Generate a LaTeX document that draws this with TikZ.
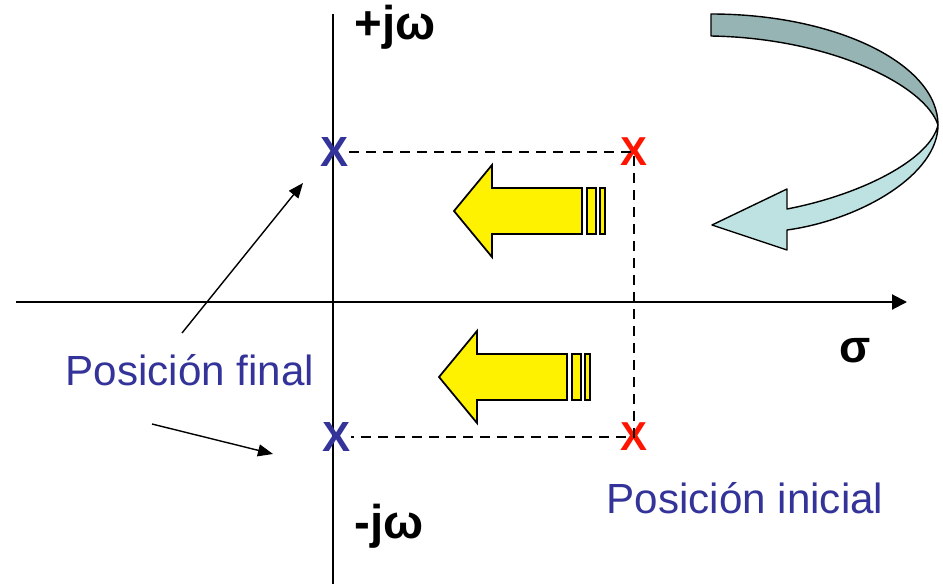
\documentclass[tikz,border=0pt]{standalone}
\usepackage{fontspec}
\setmainfont{Liberation Sans}
\usepackage{tikz}
\usetikzlibrary{arrows.meta, positioning}
\usepackage{xcolor}
\definecolor{posblue}{RGB}{51,51,153}
\definecolor{posred}{RGB}{255,20,0}
\definecolor{ribbondark}{RGB}{150,180,180}
\definecolor{ribbonlight}{RGB}{190,226,226}

\begin{document}
\begin{tikzpicture}[
    x=0.02cm, y=-0.02cm,
    axisline/.style={line width=1.15pt},
    axisarrow/.style={line width=1.15pt, -{Triangle[length=0.3cm, width=0.3cm]}},
    axistext/.style={inner sep=0, font=\bfseries\fontsize{27}{30}\selectfont},
    finalpole/.style={inner sep=0, text=posblue, font=\bfseries\fontsize{24}{27}\selectfont},
    initpole/.style={inner sep=0, text=posred, font=\bfseries\fontsize{23}{26}\selectfont},
    postext/.style={inner sep=0, text=posblue, font=\fontsize{24}{28}\selectfont},
    guide/.style={dashed, dash pattern=on 0.2cm off 0.14cm, line width=0.95pt},
    pointer/.style={line width=0.8pt, -{Triangle[length=0.3cm, width=0.24cm]}},
    blockarrow/.style={draw=black, fill=yellow, line width=1pt, line join=miter},
    ribbon/.style={draw=black, line width=0.8pt, line join=round}
]
\useasboundingbox (0,0) rectangle (943,584);

\coordinate (sigmaL) at (16,302);
\coordinate (sigmaR) at (907,302);
\coordinate (jwT) at (333,14);
\coordinate (jwB) at (333,584);
\draw[axisarrow] (sigmaL) -- (sigmaR);
\draw[axisline] (jwT) -- (jwB);

\node[axistext, anchor=base west] (jwpos) at (354,40) {+jω};
\node[axistext, anchor=base west] (jwneg) at (354,538) {-jω};
\node[axistext, anchor=base, font=\bfseries\fontsize{26}{30}\selectfont] (sigma) at (855,362) {σ};

\node[finalpole] (pu) at (335,152) {X};
\node[finalpole] (pl) at (337,437) {X};
\node[initpole] (iu) at (634,152) {X};
\node[initpole] (il) at (634,437) {X};

\draw[guide] (pu.east) -- (iu.center) -- (il.center) -- (pl.east);

\draw[blockarrow, shift={(454,211)}] (0,0) -- (38,-46) -- (38,-23) -- (128,-23) -- (128,23) -- (38,23) -- (38,46) -- cycle
    (133,-23) rectangle (142,23) (146,-23) rectangle (151,23);
\draw[blockarrow, shift={(439,377)}] (0,0) -- (38,-46) -- (38,-23) -- (128,-23) -- (128,23) -- (38,23) -- (38,46) -- cycle
    (133,-23) rectangle (142,23) (146,-23) rectangle (151,23);

\draw[ribbon, fill=ribbondark] (711,14) .. controls (836,14) and (938,64) .. (938,125)
    .. controls (925,85) and (830,38) .. (711,36) -- cycle;
\draw[ribbon, fill=ribbonlight] (938,125) .. controls (938,175) and (860,220) .. (787,230)
    -- (787,250) -- (712,225) -- (787,189) -- (787,209)
    .. controls (860,195) and (930,160) .. (938,125) -- cycle;

\node[postext, anchor=base] (final) at (190,385) {Posición final};
\node[postext, anchor=base] (inicial) at (745,513) {Posición inicial};

\coordinate (fromtop) at (182,333);
\coordinate (totop) at (303,183);
\coordinate (frombot) at (152,424);
\coordinate (tobot) at (273,454);
\draw[pointer] (fromtop) -- (totop);
\draw[pointer] (frombot) -- (tobot);
\end{tikzpicture}
\end{document}
